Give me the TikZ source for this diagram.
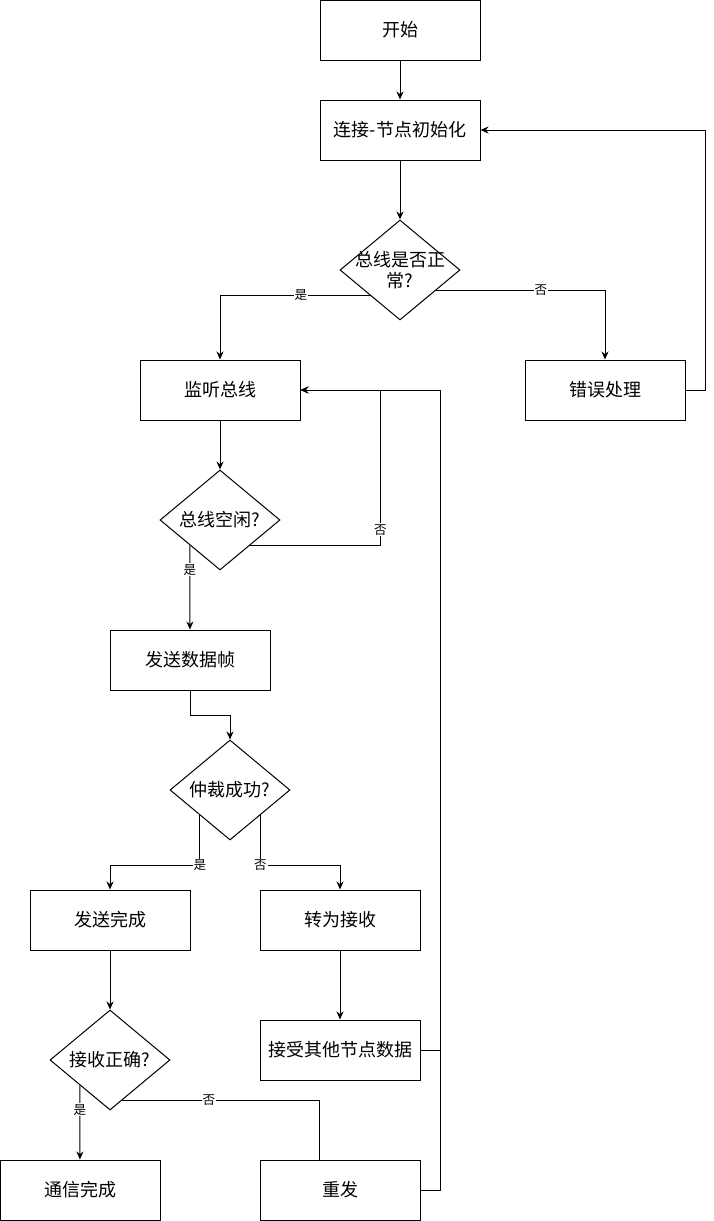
\documentclass[tikz,border=0pt]{standalone}
\usepackage{fontspec}
\setmainfont{Noto Sans CJK SC}
\usetikzlibrary{shapes.geometric,arrows.meta,calc}
\begin{document}
\begin{tikzpicture}[x=1pt,y=-1pt,line width=1pt,
    box/.style={draw,minimum width=160pt,minimum height=60pt,inner sep=0pt,font=\fontsize{18}{21}\selectfont},
    cond/.style={draw,diamond,aspect=1.2,minimum width=120pt,minimum height=100pt,inner sep=-6pt,align=center,font=\fontsize{18}{21}\selectfont},
    arr/.style={-{Stealth[length=8pt,width=7pt]}},
    lbl/.style={fill=white,inner sep=1pt,font=\fontsize{12.5}{14}\selectfont}]
    \useasboundingbox (0,0) rectangle (713,1221);

    \node[box] (start) at (400,30) {开始};
    \node[box] (init) at (400,130) {连接-节点初始化};
    \node[cond] (ok) at (400,270) {总线是否正\\常?};
    \node[box] (listen) at (220,390) {监听总线};
    \node[box] (err) at (605,390) {错误处理};
    \node[cond] (idle) at (220,520) {总线空闲?};
    \node[box] (send) at (190,660) {发送数据帧};
    \node[cond] (arb) at (230,790) {仲裁成功?};
    \node[box] (done) at (110,920) {发送完成};
    \node[box] (recv) at (340,920) {转为接收};
    \node[cond] (check) at (110,1060) {接收正确?};
    \node[box] (other) at (340,1050) {接受其他节点数据};
    \node[box] (fin) at (80,1190) {通信完成};
    \node[box] (resend) at (340,1190) {重发};

    \draw[arr] (start) -- (init);
    \draw[arr] (init) -- (ok);
    \draw[arr] (ok.south west) -| node[lbl,pos=0.23] {是} (listen);
    \draw[arr] ($(ok.east)!0.4!(ok.south)$) -| node[lbl,pos=0.31] {否} (err);
    \draw[arr] (err.east) -- ++(20,0) |- (init.east);
    \draw[arr] (listen) -- (idle);
    \draw[arr] (idle.south east) -- ++(130,0) |- node[lbl,pos=0.05] {否} (listen.east);
    \draw[arr] (idle.south west) -- node[lbl,pos=0.29] {是} (send);
    \draw[arr] (send.south) -- ++(0,25) -| (arb.north);
    \draw[arr] (arb.south west) -- ++(0,50) node[lbl] {是} -| (done.north);
    \draw[arr] (arb.south east) -- ++(0,50) node[lbl] {否} -| (recv.north);
    \draw[arr] (recv) -- (other);
    \draw[arr] (done) -- (check);
    \draw[arr] (check.south west) -- node[lbl,pos=0.33] {是} (fin);
    \draw ($(check.east)!0.8!(check.south)$) -| node[lbl,pos=0.22] {否} ($(resend.north west)+(60,0)$);
    \draw[arr] (resend.east) -- ++(20,0) |- (listen.east);
    \draw (other.east) -- ++(20,0);
\end{tikzpicture}
\end{document}
